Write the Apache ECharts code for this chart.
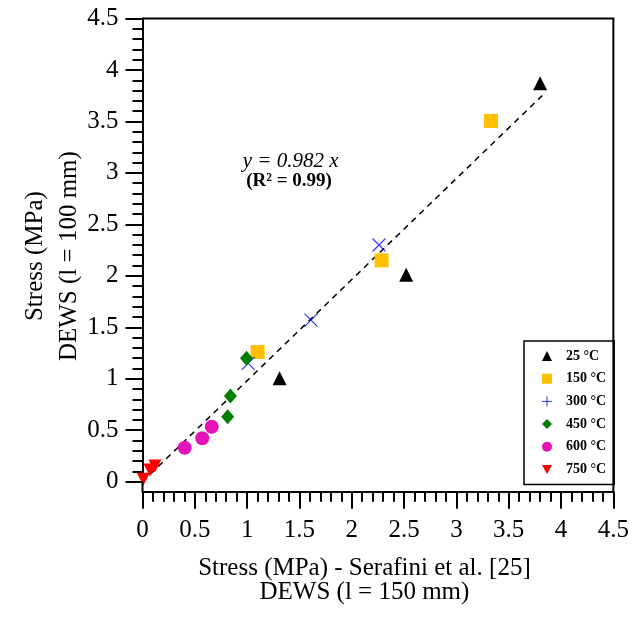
<!DOCTYPE html>
<html><head><meta charset="utf-8">
<script src="https://cdn.jsdelivr.net/npm/echarts@6/dist/echarts.min.js"></script>
<style>html,body{margin:0;padding:0;background:#fff}#c{width:632px;height:623px}</style>
</head><body><div id="c"></div>
<script>
const seriesNames = ['25 °C', '150 °C', '300 °C', '450 °C', '600 °C', '750 °C'];
const x25 = [3.80, 2.52, 1.31];
const y25 = [3.87, 2.01, 1.005];
const x150 = [3.33, 2.285, 1.10];
const y150 = [3.505, 2.15, 1.26];
const x300 = [2.26, 1.61, 1.01];
const y300 = [2.30, 1.57, 1.15];
const x450 = [0.994, 0.84, 0.814];
const y450 = [1.20, 0.833, 0.632];
const x600 = [0.662, 0.571, 0.403];
const y600 = [0.534, 0.422, 0.330];
const x750 = [0.119, 0.071, 0.008];
const y750 = [0.153, 0.114, 0.023];
const fitX = [0, 3.82];
const fitY = [0, 3.751];
const axisTicks = [0, 0.5, 1, 1.5, 2, 2.5, 3, 3.5, 4, 4.5];
const eqText = 'y = 0.982 x';
const r2Text = '(R² = 0.99)';
const eqPos = [1.416, 3.11];
const r2Pos = [1.40, 2.925];
const xTitle = 'Stress (MPa) - Serafini et al. [25]\nDEWS (l = 150 mm)';
const yTitle = 'Stress (MPa)\nDEWS (l = 100 mm)';

const FONT = '"Liberation Serif", "Times New Roman", serif';
const zip = (a, b) => a.map((v, i) => [v, b[i]]);
const xPath = 'path://M0,0L10,10M10,0L0,10';
const plusPath = 'path://M5,0L5,10M0,5L10,5';
const downTri = 'path://M0,0L10,0L5,9Z';

const chart = echarts.init(document.getElementById('c'), null, {renderer: 'canvas'});

const axisCommon = {
  type: 'value', min: 0, max: 4.5, interval: 0.5,
  axisLine: {show: true, onZero: false, lineStyle: {color: '#000', width: 2}},
  axisTick: {show: true, inside: false, length: 17, lineStyle: {color: '#000', width: 2}},
  minorTick: {show: true, splitNumber: 5, length: 10, lineStyle: {color: '#000', width: 2}},
  splitLine: {show: false},
  minorSplitLine: {show: false},
  nameMoveOverlap: false,
  axisLabel: {color: '#000', fontFamily: FONT, fontSize: 25,
    formatter: v => (axisTicks.indexOf(v) >= 0 ? String(v) : '')}
};

const mk = (name, xs, ys, symbol, size, color, extra) => Object.assign({
  name, type: 'scatter', data: zip(xs, ys), symbol, symbolSize: size,
  itemStyle: {color, opacity: 1}, z: 3
}, extra || {});

const option = {
  backgroundColor: '#fff',
  animation: false,
  grid: {left: 142.5, right: 15, top: 18.5, bottom: 141.3, containLabel: false},
  xAxis: Object.assign({}, axisCommon, {
    position: 'bottom', offset: 10,
    axisLabel: Object.assign({}, axisCommon.axisLabel, {margin: 26}),
    name: xTitle, nameLocation: 'middle', nameGap: 65,
    nameTextStyle: {color: '#000', fontFamily: FONT, fontSize: 25, lineHeight: 24, padding: [0, 27, 0, 0]}
  }),
  yAxis: Object.assign({}, axisCommon, {
    position: 'left',
    axisLabel: Object.assign({}, axisCommon.axisLabel, {margin: 24}),
    name: yTitle, nameLocation: 'middle', nameGap: 56, nameRotate: 90,
    nameTextStyle: {color: '#000', fontFamily: FONT, fontSize: 25, lineHeight: 34, padding: [0, 12, 0, 0]}
  }),
  legend: {
    orient: 'vertical', left: 524, top: 341,
    padding: [8, 8, 8, 17.5],
    itemWidth: 10, itemHeight: 10, itemGap: 8.7,
    borderColor: '#000', borderWidth: 1.5, backgroundColor: '#fff',
    textStyle: {color: '#000', fontFamily: FONT, fontSize: 14, fontWeight: 'bold', lineHeight: 14, padding: [0, 0, 0, 9]},
    data: [
      {name: seriesNames[0]},
      {name: seriesNames[1]},
      {name: seriesNames[2], icon: plusPath, itemStyle: {color: '#0000ff', borderColor: '#0000ff', borderWidth: 1}},
      {name: seriesNames[3]},
      {name: seriesNames[4]},
      {name: seriesNames[5]}
    ]
  },
  series: [
    {name: 'fit', type: 'line', data: zip(fitX, fitY), symbol: 'none', z: 2,
     lineStyle: {color: '#000', width: 1.5, type: [6, 5]}, silent: true},
    mk(seriesNames[0], x25, y25, 'triangle', 14, '#000000'),
    mk(seriesNames[1], x150, y150, 'rect', 14, '#FFC000'),
    mk(seriesNames[2], x300, y300, xPath, 13, '#0000ff',
       {itemStyle: {color: '#0000ff', borderColor: '#0000ff', borderWidth: 1.2}}),
    mk(seriesNames[3], x450, y450, 'diamond', [13, 15], '#008000'),
    mk(seriesNames[4], x600, y600, 'circle', 14, '#E412B8'),
    mk(seriesNames[5], x750, y750, downTri, 13, '#FF0000')
  ]
};
chart.setOption(option);

const p0 = chart.convertToPixel({gridIndex: 0}, [0, 0]);
const p1 = chart.convertToPixel({gridIndex: 0}, [4.5, 4.5]);
const axisY = p0[1] + 10;
const eq = chart.convertToPixel({gridIndex: 0}, eqPos);
const r2 = chart.convertToPixel({gridIndex: 0}, r2Pos);
const ls = {stroke: '#000', lineWidth: 2};
chart.setOption({
  graphic: [
    {type: 'polyline', shape: {points: [[p0[0], p1[1]], [p1[0], p1[1]], [p1[0], axisY]]}, style: ls, z: 10},
    {type: 'line', shape: {x1: p0[0], y1: p0[1], x2: p0[0], y2: axisY}, style: ls, z: 10},
    {type: 'text', x: eq[0], y: eq[1], style: {text: eqText, fill: '#000', font: 'italic 21px ' + FONT, textAlign: 'center', textVerticalAlign: 'middle'}, z: 10},
    {type: 'text', x: r2[0], y: r2[1], style: {text: r2Text, fill: '#000', font: 'bold 19px ' + FONT, textAlign: 'center', textVerticalAlign: 'middle'}, z: 10}
  ]
});
</script>
</body></html>
